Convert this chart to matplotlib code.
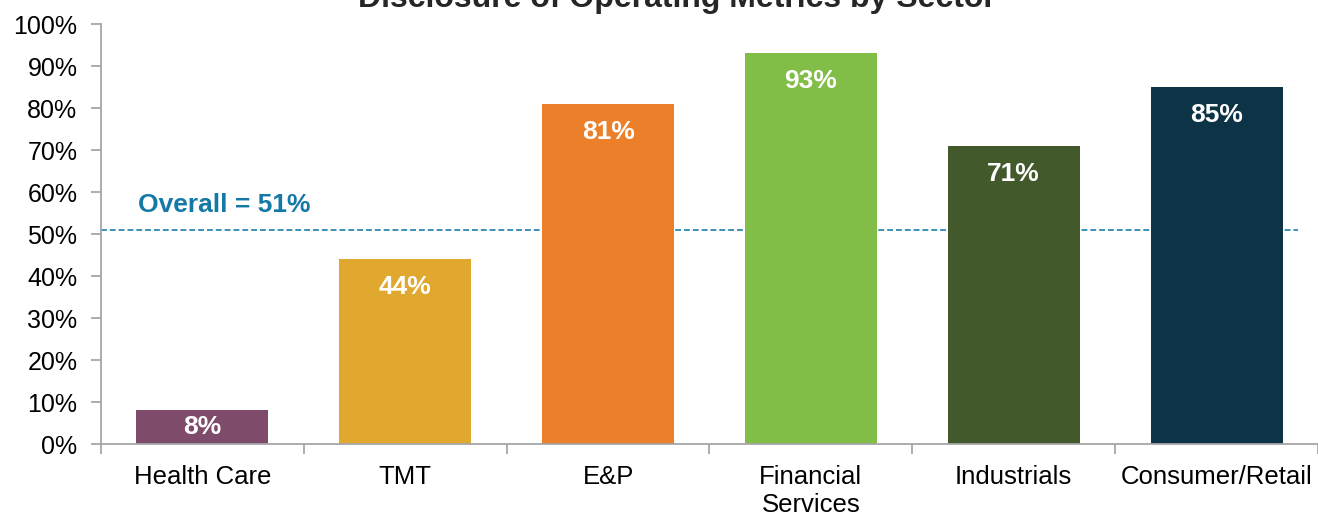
import matplotlib
matplotlib.use("Agg")
import matplotlib.pyplot as plt
from matplotlib.ticker import FuncFormatter, FixedLocator

plt.rcParams['font.family'] = ['Liberation Sans', 'DejaVu Sans']

sectors = ["Health Care", "TMT", "E&P", "Financial\nServices", "Industrials", "Consumer/Retail"]
disclosure = [8, 44, 81, 93, 71, 85]
bar_colors = ["#7F4B6B", "#E0A82E", "#EC7F2A", "#82BD47", "#41592B", "#0D3446"]
overall = 51

fig = plt.figure(figsize=(13.18, 5.16), dpi=100)
ax = fig.add_axes([101 / 1318, 1 - 444 / 516, 1 - 101 / 1318, 420 / 516])

x = list(range(len(sectors)))
bars = ax.bar(x, disclosure, width=0.65, color=bar_colors, zorder=2)

for xi, v in zip(x, disclosure):
    if v < 15:
        ax.text(xi, v / 2, f"{v}%", ha='center', va='center',
                color='white', fontsize=19, fontweight='bold', zorder=3)
    else:
        ax.annotate(f"{v}%", (xi, v), xytext=(0, -20), textcoords='offset points',
                    ha='center', va='center', color='white',
                    fontsize=19, fontweight='bold', zorder=3)

# overall line
ax.plot([-0.5, 5.4], [overall, overall], color='#1A7FAA', lw=1.2,
        dashes=(3.5, 1.8), zorder=1)
ax.text(-0.32, 57, f"Overall = {overall}%", ha='left', va='center',
        color='#1479A6', fontsize=19, fontweight='bold')

ax.set_xlim(-0.5, 5.5)
ax.set_ylim(0, 100)
ax.set_yticks(range(0, 101, 10))
ax.yaxis.set_major_formatter(FuncFormatter(lambda v, p: f"{v:.0f}%"))

ax.set_xticks(x)
ax.set_xticklabels(sectors, fontsize=18.5, color='black', linespacing=1.2)
ax.xaxis.set_minor_locator(FixedLocator([i - 0.5 for i in range(len(sectors) + 1)]))
ax.tick_params(axis='x', which='major', length=0, pad=15)
ax.tick_params(axis='x', which='minor', length=7, color='#A6A6A6', width=1.3)
ax.tick_params(axis='y', labelsize=18, length=7, color='#A6A6A6', width=1.3,
               pad=10, labelcolor='black')

for s in ['top', 'right']:
    ax.spines[s].set_visible(False)
for s in ['left', 'bottom']:
    ax.spines[s].set_color('#A6A6A6')
    ax.spines[s].set_linewidth(1.3)

fig.text(677 / 1318, 1 - 7 / 516, "Disclosure of Operating Metrics by Sector",
         ha='center', va='baseline', fontsize=23, fontweight='bold', color='#262626')

fig.savefig("out.png", dpi=100)
